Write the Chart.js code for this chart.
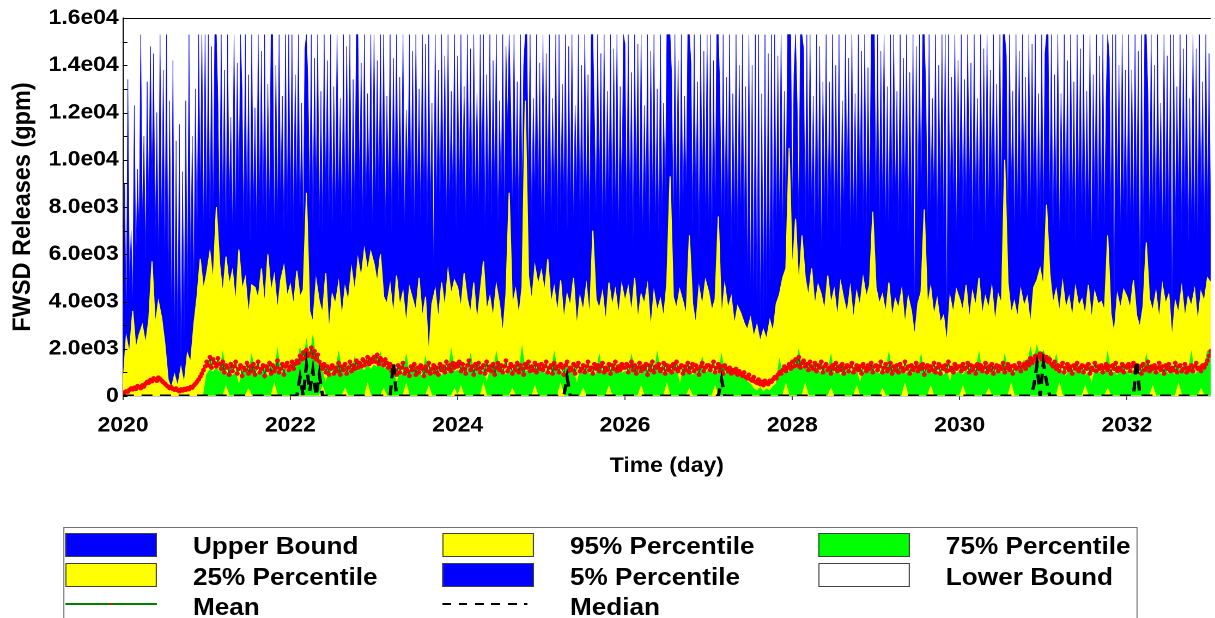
<!DOCTYPE html>
<html><head><meta charset="utf-8">
<script src="https://cdn.jsdelivr.net/npm/chart.js@4.4.1/dist/chart.umd.min.js"></script>
<style>
html,body{margin:0;padding:0;background:#fff;overflow:hidden;width:1215px;height:618px;}
#wrap{position:absolute;left:0;top:0;width:1115px;height:618px;transform:scaleX(1.0897);transform-origin:0 0;}
#cv{position:absolute;left:0;top:0;}
#legend{position:absolute;left:58px;top:527px;width:986px;height:110px;border:1px solid #707070;box-sizing:border-box;font:bold 24px "Liberation Sans",Arial,sans-serif;color:#000;}
.sw{position:absolute;width:84px;height:24px;border:1px solid #404040;box-sizing:border-box;}
.lt{position:absolute;line-height:26px;white-space:nowrap;}
</style></head>
<body>
<div id="wrap">
<canvas id="cv" width="1115" height="500"></canvas>
<div id="legend">
 <div class="sw" style="left:1px;top:5px;background:#0000ff"></div><div class="lt" style="left:118px;top:5px">Upper Bound</div>
 <div class="sw" style="left:347px;top:5px;background:#ffff00"></div><div class="lt" style="left:464px;top:5px">95% Percentile</div>
 <div class="sw" style="left:692px;top:5px;background:#00ff00"></div><div class="lt" style="left:809px;top:5px">75% Percentile</div>
 <div class="sw" style="left:1px;top:35px;background:#ffff00"></div><div class="lt" style="left:118px;top:36px">25% Percentile</div>
 <div class="sw" style="left:347px;top:35px;background:#0000ff"></div><div class="lt" style="left:464px;top:36px">5% Percentile</div>
 <div class="sw" style="left:692px;top:35px;background:#ffffff"></div><div class="lt" style="left:809px;top:36px">Lower Bound</div>
 <div style="position:absolute;left:1px;top:75px;width:84px;height:2px;background:#008000"></div>
 <div style="position:absolute;left:42px;top:75px;width:2px;height:2px;background:#ff0000"></div>
 <div class="lt" style="left:118px;top:66px">Mean</div>
 <div style="position:absolute;left:347px;top:75px;width:78px;height:2px;background:repeating-linear-gradient(90deg,#000 0 8px,transparent 8px 15px)"></div>
 <div class="lt" style="left:464px;top:66px">Median</div>
</div>
</div>
<script>
const startYear = 2020;
const finePerYear = 52;     // upper bound and mean: weekly values
const coarsePerYear = 26;   // other series: fortnightly values
const xTickValues = [2020,2022,2024,2026,2028,2030,2032];
const xTickLabels = ['2020','2022','2024','2026','2028','2030','2032'];
const yTickValues = [0,2000,4000,6000,8000,10000,12000,14000,16000];
const yTickLabels = ['0','2.0e03','4.0e03','6.0e03','8.0e03','1.0e04','1.2e04','1.4e04','1.6e04'];

const upperBound = [
 2000,9000,3000,13400,4500,7000,3800,12300,5500,9600,6800,15300,7500,11000,5600,13300,7800,14800,9000,14500,6500,12000,5800,15300,7000,13800,5500,15300,4500,12500,3200,14200,2400,10800,1800,11500,1300,9500,2500,12500,3500,15300,4800,11000,4500,13000,6200,15300,8500,15300,6800,15300,
 7000,15300,6600,14800,7400,15300,15300,12500,6800,15300,7600,13800,6500,15300,7900,11800,6900,15300,7200,14100,8100,15300,12900,6700,15300,7300,13600,6400,15300,7700,12200,6900,15300,8000,14600,7100,15300,6600,13200,7800,15300,15300,6800,14000,7400,15300,8200,12700,6900,15300,7500,15300,
 7600,15300,6900,13600,8200,15300,7300,12400,6800,14700,15300,13200,7900,15300,6600,14300,8400,15300,7100,12900,6900,15300,8500,14200,7200,15300,6700,13100,7800,15300,8300,12600,6900,15300,7500,14800,8100,15300,6800,13400,7700,15300,15300,8600,14100,7200,15300,7900,12800,8400,15300,6900,
 15300,8200,14200,7800,15300,8600,15300,7100,12700,8400,15300,6900,14300,8800,15300,7500,13500,8300,15300,7000,12100,8900,15300,7600,14600,6800,15300,8500,13000,7300,15300,8100,14900,6900,15300,7700,12400,5200,15300,8000,13800,7400,15300,8600,14400,7200,15300,7900,12900,8300,15300,7100,
 14400,7800,15300,8500,13100,7200,15300,8900,14700,7400,15300,8200,12800,7700,15300,8800,15300,6900,13600,8100,15300,7500,14200,8700,15300,7000,12500,8300,15300,7600,14800,11500,15300,12200,7900,15300,8400,13300,7100,15300,8600,14000,15300,15300,8900,15300,7300,12600,8500,15300,7800,14100,
 7300,15300,6800,14500,7900,15300,7100,12600,8300,15300,6700,15300,7600,13200,8200,15300,6500,14800,7800,15300,7200,12300,8600,15300,6900,14000,7400,15300,8100,13600,6600,15300,15300,11800,7700,15300,8400,14500,6900,15300,7500,12900,8200,15300,7000,14700,7800,15300,6700,13100,8000,15300,
 14900,6900,15300,7700,13700,6300,15300,8100,14900,7300,15300,6700,12300,7800,15300,6100,14600,8200,15300,7100,13000,6600,15300,7500,12400,8300,15300,15300,15300,13600,7200,15300,8000,14200,6800,15300,7600,12700,8500,15300,15300,14100,7000,15300,7900,13300,6500,15300,8200,14600,7400,15300,
 7000,15300,6500,14200,7700,15300,15300,12900,7200,15300,6900,13500,7600,15300,6300,12800,7100,15300,6600,14000,7400,15300,6200,13100,5000,15300,4100,14000,3600,15300,3200,15300,3000,12800,3400,15300,3800,14500,4600,15300,5200,15300,6700,14400,7300,15300,6800,12900,7500,15300,15300,15300,
 7900,13600,15300,12400,7400,15300,15300,14700,6800,15300,7700,15300,7900,12700,6400,15300,7000,14800,5900,13300,7600,15300,6600,13300,8000,15300,6900,14000,7300,15300,6200,12500,7800,15300,8500,14300,6700,15300,7400,12800,6800,15300,8100,14600,7200,15300,6900,13900,7700,15300,15300,15300,
 7800,15300,6900,14600,8200,15300,7100,13100,6500,15300,7800,15300,8400,12900,6800,15300,7500,14300,8100,15300,6600,13700,7200,15300,3400,14800,7700,15300,8300,15300,15300,13000,6900,15300,7600,12600,8200,15300,6400,14000,7900,15300,6800,15300,2700,15300,7300,13500,8000,15300,6600,14200,
 8300,15300,6800,13400,7600,15300,8400,14100,6300,15300,7900,12600,7100,15300,8200,14700,6500,15300,7700,13800,8600,15300,6900,13200,7400,15300,8000,15300,15300,14400,7200,15300,8500,12900,6700,15300,7800,14600,6900,15300,8300,13500,7000,15300,7600,14900,8200,15300,6800,12800,7500,15300,
 7000,14500,15300,15300,7800,15300,6200,13600,7500,15300,6600,12800,8000,15300,7200,14200,6900,15300,7700,13300,6400,15300,8100,14700,7300,15300,6700,12900,7900,15300,6000,13600,7800,15300,6500,14400,7600,15300,7100,12700,15300,14300,7400,15300,3200,15300,8100,14000,6800,15300,7600,13800,
 6400,15300,7200,13800,6900,15300,7500,14600,4000,15300,6300,15300,15300,12900,6800,15300,7500,14000,6200,15300,7900,12400,6600,15300,7100,14400,6500,15300,2900,15300,7000,13100,8200,15300,6700,14700,7600,15300,5700,12600,7300,15300,6800,14700,6100,15300,7800,13300,6900,15300,7400,14500,
 7500];

const pct95 = [
 500,2500,1800,3600,2000,2600,3000,2200,3200,5700,3000,4000,3300,2200,700,300,900,400,1200,500,1800,1400,3000,4200,5800,4500,
 5200,6100,4800,8000,5600,4300,5900,4700,5300,3900,6200,4500,5000,3400,4700,4600,4100,5400,3800,6000,4400,5100,3600,4900,5500,4200,
 4700,3800,5300,4200,4500,8600,3600,3100,4900,4000,3500,5200,2700,4300,3900,4800,3300,4600,4000,5400,4400,5800,5000,6200,5300,6100,
 5600,4800,6000,4200,3900,4700,3400,5100,3800,4400,3000,4600,4100,3600,5000,3300,4200,1700,3900,4500,3200,4800,3700,5300,4300,4900,
 4600,3700,5200,4100,3500,4800,3100,4400,5700,3600,4200,3300,4700,3900,2600,4300,8600,3800,4500,3400,4600,12500,5100,4000,5500,4700,
 5300,4400,5800,3900,4600,3500,4900,3200,4300,3800,5000,2900,4200,3600,4700,3300,7000,4100,3700,4400,3100,4800,3800,4500,3400,4700,
 4000,4600,3500,5000,3200,4300,3900,4700,2800,4400,3600,4100,3300,4800,9300,4200,3700,4500,4000,3400,6800,3900,3000,4600,3800,4900,
 4400,3600,4100,7600,3300,4700,3700,4200,3000,3800,3500,3100,2800,3300,2500,3000,2300,2800,2400,3200,2700,3900,4300,5000,5400,10500,
 5200,7500,4600,6800,5000,4200,5400,3800,4700,4300,3600,5100,3900,4500,3300,4800,4100,3500,4600,3200,4400,3800,5000,4200,4700,7800,
 4600,3900,4300,3500,4800,3300,4100,3700,4500,3000,4200,3600,2500,3900,4400,7900,3800,4600,3400,4100,3100,3400,2200,4200,3500,4500,
 4100,3600,4700,3200,4400,3800,5000,3400,4200,3700,4600,3100,4300,3900,10000,4800,3500,4000,3300,4500,3800,4200,3000,4600,4900,5400,
 4600,8100,5200,3900,4500,3500,4800,3700,4200,3300,4600,3800,4100,3400,4700,3200,4400,3900,4000,3600,6800,3500,2600,4300,3700,4500,
 4200,3700,4900,3400,2900,3800,6500,4100,3600,4400,3200,4700,3900,4300,2400,4000,3500,4600,3300,4200,3800,4500,3100,4400,4000,5000,
 4800];

const pct75 = [
 0,0,0,0,0,0,0,0,0,0,0,0,0,0,0,0,0,0,0,0,0,0,0,0,0,0,
 900,1100,1000,1200,950,1800,900,1050,850,1000,400,950,1100,900,1700,850,1000,950,1150,800,1050,900,1900,950,1100,1000,
 1100,1300,1200,2000,1400,2300,1500,2500,1400,1300,1000,500,1050,850,1000,1800,1050,900,1100,950,1600,1000,1200,1050,1300,1100,
 1300,1200,1800,1100,1250,1000,1150,400,1050,900,1700,850,1100,950,1000,800,1600,900,1150,950,1000,850,1050,950,1900,1000,
 1100,950,1200,900,1700,1000,1200,850,1100,500,1050,950,1800,1000,1100,850,1150,950,1050,900,2000,1000,1100,900,1150,1050,
 1150,950,1100,900,1800,1000,1050,900,1200,950,1100,450,1050,1000,1150,900,1050,850,1700,950,1050,900,1150,1000,1100,950,
 1050,900,1700,1000,1100,850,1200,950,1050,900,1800,1000,1000,850,1100,950,1200,400,1050,1000,1150,850,1000,950,1600,900,
 1150,950,1050,850,1700,900,1000,800,950,850,900,800,600,500,300,200,350,150,300,200,400,500,1500,900,1100,1000,
 1250,1100,1900,1150,1200,1000,1250,950,1100,900,1150,950,1700,900,1100,850,1150,950,1050,850,1100,450,1050,900,1150,1000,
 1100,900,1150,950,1800,850,1100,1000,1150,900,1050,850,1100,950,1700,850,1150,900,1050,950,1100,850,1050,500,1150,950,
 1050,850,1100,900,1000,950,1800,900,1050,850,1100,1000,1150,900,1700,1000,1100,950,1200,1100,1500,1300,2000,1400,2100,1600,
 1900,1500,1700,1100,1700,950,1000,800,1100,900,1050,950,1150,850,1000,450,1100,950,1050,800,1800,900,1000,850,1100,900,
 1050,850,1100,950,1000,800,1700,900,1050,950,1000,850,1100,900,1050,850,1150,950,1000,900,1800,850,1050,950,1150,1900,
 1800];

const pct25 = [
 0,0,0,0,0,0,0,0,0,0,0,0,0,0,0,0,0,0,0,0,0,0,0,0,0,0,
 0,0,0,0,0,0,400,0,0,0,0,0,0,300,0,0,0,0,0,0,0,500,0,0,0,0,
 0,0,0,0,0,0,0,0,0,0,400,0,0,0,0,0,0,300,0,0,0,0,0,0,500,0,
 0,0,0,300,0,0,0,0,0,0,500,0,0,0,0,0,0,400,0,0,0,0,0,0,0,300,
 0,400,0,0,0,0,0,0,500,0,0,0,0,0,0,0,0,300,0,0,0,0,0,0,400,0,
 0,0,0,0,0,0,500,0,0,0,0,0,0,300,0,0,0,0,0,0,0,400,0,0,0,0,
 0,0,0,0,0,400,0,0,0,0,0,0,0,500,0,0,0,0,0,0,300,0,0,0,0,0,
 0,0,400,0,0,0,0,0,0,0,0,0,0,0,0,0,0,0,0,0,0,0,0,0,500,0,
 0,0,0,0,500,0,0,0,0,0,0,0,300,0,0,0,0,0,0,0,400,0,0,0,0,0,
 0,0,300,0,0,0,0,0,0,500,0,0,0,0,0,0,0,400,0,0,0,0,0,0,0,0,
 0,400,0,0,0,0,0,0,0,300,0,0,0,0,0,0,500,0,0,0,0,0,0,0,0,0,
 0,0,0,0,0,500,0,0,0,0,0,0,0,400,0,0,0,0,0,0,300,0,0,0,0,0,
 0,0,0,0,0,0,0,0,400,0,0,0,0,0,0,0,500,0,0,0,0,0,0,300,0,0,
 0];

const meanVals = [
 80,150,200,180,260,320,280,350,300,420,380,330,450,400,520,600,560,680,620,750,700,640,780,720,650,580,520,450,400,330,370,300,260,320,240,200,280,230,300,260,330,290,380,350,450,520,600,700,820,950,1100,1250,
 1450,1300,1650,1200,1550,1400,1250,1600,1350,1150,1450,1000,1300,1200,900,1350,1050,1250,1450,950,1150,1300,850,1200,1100,1400,950,1250,1050,1350,900,1200,1450,1000,1150,1300,850,1250,1100,1400,950,1300,1050,1200,1500,1000,1150,1350,900,1250,1400,1100,
 1250,1450,1150,1350,1500,1400,1700,1550,1850,1600,1950,1700,1800,2050,1650,1900,1550,1750,1450,1300,1150,1350,1000,1250,900,1150,1300,950,1200,1050,1400,900,1250,1100,1350,950,1200,1450,1050,1300,1150,1500,1200,1400,1250,1550,1300,1450,1650,1350,1550,1450,
 1650,1450,1750,1350,1600,1500,1300,1550,1400,1200,1350,1050,1250,1100,900,1300,1000,1200,1400,950,1150,1050,850,1250,1100,1350,900,1200,1000,1300,1150,850,1250,1050,1400,950,1150,1300,1000,1200,900,1350,1100,1250,1000,1450,1150,1300,1050,1400,1200,1350,
 1250,1450,1050,1350,1150,950,1300,1500,1100,1250,900,1350,1150,1400,1000,1200,1300,950,1450,1100,1250,1050,1350,900,1200,1400,1100,1300,1000,1250,1500,1050,1200,1350,950,1250,1100,1400,1000,1300,1150,900,1350,1200,1450,1050,1250,1100,1400,1000,1300,1150,
 1350,1100,1250,1450,1000,1200,1300,950,1400,1150,1250,1000,1350,1200,900,1300,1450,1050,1200,1100,1350,950,1250,1400,1050,1150,1300,1000,1250,1450,1100,1200,950,1350,1150,1300,1050,1250,1400,1000,1200,1100,1350,950,1300,1150,1450,1050,1250,1100,1350,1200,
 1200,1350,1000,1250,1450,1100,1300,950,1200,1400,1050,1250,1150,1350,900,1300,1100,1450,1000,1250,1200,1350,1050,1150,1400,950,1300,1100,1250,1000,1350,1150,1450,1050,1200,1300,950,1250,1100,1400,1000,1200,1350,1050,1300,1150,900,1250,1400,1050,1200,1300,
 1300,1100,1250,1450,1000,1200,1350,1050,1250,950,1300,1150,1050,1200,950,1100,1000,1150,900,1050,950,850,1000,800,750,900,700,650,800,600,550,700,500,600,450,650,550,500,650,600,700,800,750,900,1000,950,1100,1250,1050,1200,1350,1150,
 1450,1250,1550,1300,1650,1200,1400,1500,1250,1350,1100,1450,1250,1150,1400,1050,1300,1200,1450,1000,1250,1350,1100,1200,950,1300,1150,1400,1050,1250,1100,1350,950,1200,1300,1050,1250,1400,1000,1150,1300,1100,1250,950,1350,1200,1050,1300,1150,1400,1000,1250,
 1300,1100,1250,1450,1000,1200,1350,1050,1150,1400,950,1250,1100,1300,1000,1350,1200,1050,1450,1150,1250,950,1300,1100,1200,1400,1050,1250,1150,1350,900,1200,1300,1050,1250,1100,1400,1000,1200,1350,950,1250,1150,1300,1050,1450,1100,1200,1000,1350,1150,1250,
 1250,1050,1350,1150,1200,1400,1000,1300,1100,1250,950,1350,1150,1300,1050,1200,1400,1000,1250,1100,1350,950,1200,1300,1050,1250,1150,1400,1000,1200,1350,1100,1250,950,1300,1150,1200,1400,1050,1250,1350,1150,1450,1300,1600,1400,1550,1700,1450,1650,1800,1550,
 1700,1500,1650,1450,1550,1350,1250,1450,1150,1300,1050,1250,1400,1000,1200,1350,1100,1250,950,1300,1150,1400,1050,1200,1300,1000,1250,1150,1350,950,1200,1100,1400,1050,1250,1150,1300,1000,1200,1350,1100,1250,950,1300,1150,1400,1050,1200,1100,1350,1000,1250,
 1200,1350,1050,1250,1400,1000,1300,1150,1250,950,1350,1100,1200,1450,1050,1250,1150,1300,1000,1200,1400,1100,1250,950,1300,1150,1350,1050,1200,1100,1400,1000,1250,1300,1050,1150,1350,1000,1200,1100,1300,1050,1250,1400,1150,1200,1050,1300,1200,1350,1500,1700,
 1900];

const medianVals = [
 0,0,0,0,0,0,0,0,0,0,0,0,0,0,0,0,0,0,0,0,0,0,0,0,0,0,
 0,0,0,0,0,0,0,0,0,0,0,0,0,0,0,0,0,0,0,0,0,0,0,0,0,0,
 0,0,0,800,0,1300,200,1100,0,900,0,0,0,0,0,0,0,0,0,0,0,0,0,0,0,0,
 0,0,0,0,0,0,1400,0,0,0,0,0,0,0,0,0,0,0,0,0,0,0,0,0,0,0,
 0,0,0,0,0,0,0,0,0,0,0,0,0,0,0,0,0,0,0,0,0,0,0,0,0,0,
 0,0,0,0,0,0,0,0,800,0,0,0,0,0,0,0,0,0,0,0,0,0,0,0,0,0,
 0,0,0,0,0,0,0,0,0,0,0,0,0,0,0,0,0,0,0,0,0,0,0,0,0,0,
 0,0,0,0,700,0,0,0,0,0,0,0,0,0,0,0,0,0,0,0,0,0,0,0,0,0,
 0,0,0,0,0,0,0,0,0,0,0,0,0,0,0,0,0,0,0,0,0,0,0,0,0,0,
 0,0,0,0,0,0,0,0,0,0,0,0,0,0,0,0,0,0,0,0,0,0,0,0,0,0,
 0,0,0,0,0,0,0,0,0,0,0,0,0,0,0,0,0,0,0,0,0,0,0,400,1300,0,
 1400,600,0,0,0,0,0,0,0,0,0,0,0,0,0,0,0,0,0,0,0,0,0,0,0,0,
 0,0,0,1500,0,0,0,0,0,0,0,0,0,0,0,0,0,0,0,0,0,0,0,0,0,0,
 0];

function toXY(arr, perYear){ return arr.map((v,i)=>({x: startYear + i/perYear, y: v})); }

const FONT = '"Liberation Sans", Arial, sans-serif';
function band(label, arr, perYear, color, lineWidth, order){
  return {label, data: toXY(arr, perYear), borderColor: color, backgroundColor: color, borderWidth: lineWidth,
          pointRadius: 0, fill: 'origin', tension: 0, order};
}

const frame = {
  id: 'frame',
  afterDatasetsDraw(chart){
    const {ctx, chartArea: a, scales: {y}} = chart;
    ctx.save();
    ctx.strokeStyle = '#000';
    ctx.lineWidth = 1;
    ctx.beginPath();
    ctx.moveTo(a.left, a.top + 0.5); ctx.lineTo(a.right, a.top + 0.5);
    for (let v = 0; v <= 16000; v += 1000) {
      const py = Math.round(y.getPixelForValue(v)) + 0.5;
      ctx.moveTo(a.left, py); ctx.lineTo(a.left + 4, py);
    }
    ctx.stroke();
    ctx.restore();
  }
};

new Chart(document.getElementById('cv'), {
  type: 'line',
  data: { datasets: [
    band('Upper Bound', upperBound, finePerYear, '#0000ff', 0.45, 10),
    band('95% Percentile', pct95, coarsePerYear, '#ffff00', 1, 9),
    band('75% Percentile', pct75, coarsePerYear, '#00ff00', 1, 8),
    band('25% Percentile', pct25, coarsePerYear, '#ffff00', 1, 7),
    {label: 'Mean', data: toXY(meanVals, finePerYear), borderColor: '#006400', borderWidth: 1, tension: 0,
     pointRadius: 2.2, pointBackgroundColor: '#ff0000', pointBorderColor: '#ff0000', pointBorderWidth: 0,
     fill: false, order: 2},
    {label: 'Median', data: toXY(medianVals, coarsePerYear), borderColor: '#000000', borderWidth: 3, borderDash: [10, 7],
     pointRadius: 0, tension: 0, fill: false, order: 1}
  ]},
  options: {
    responsive: false, animation: false, devicePixelRatio: 2, events: [],
    layout: {padding: {top: 18, left: 0, right: 0, bottom: 0}},
    plugins: {legend: {display: false}, tooltip: {enabled: false}},
    scales: {
      x: {
        type: 'linear', min: 2020, max: 2033,
        afterBuildTicks: s => { s.ticks = xTickValues.map(v => ({value: v})); },
        afterFit: s => { s.height = 104; },
        ticks: {callback: v => { const k = xTickValues.indexOf(v); return k >= 0 ? xTickLabels[k] : ''; },
                font: {family: FONT, size: 21, weight: 'bold'}, color: '#000', padding: 13,
                maxRotation: 0, autoSkip: false},
        grid: {drawOnChartArea: false, drawTicks: true, tickLength: 4, color: '#404040'},
        border: {display: true, color: '#909090', width: 1},
        title: {display: true, text: 'Time (day)', color: '#000',
                font: {family: FONT, size: 21, weight: 'bold'}, padding: {top: 0, bottom: 21}}
      },
      y: {
        min: 0, max: 16000,
        afterBuildTicks: s => { s.ticks = yTickValues.map(v => ({value: v})); },
        afterFit: s => { s.width = 112.9; },
        ticks: {callback: v => { const k = yTickValues.indexOf(v); return k >= 0 ? yTickLabels[k] : ''; },
                font: {family: FONT, size: 21, weight: 'bold'}, color: '#000', padding: 4},
        grid: {drawOnChartArea: false, drawTicks: false},
        border: {display: true, color: '#000', width: 1},
        title: {display: true, text: 'FWSD Releases (gpm)', color: '#000',
                font: {family: FONT, size: 23.5, weight: 'bold'}, padding: {top: 7, bottom: 0}}
      }
    }
  },
  plugins: [frame]
});
</script>
</body></html>
